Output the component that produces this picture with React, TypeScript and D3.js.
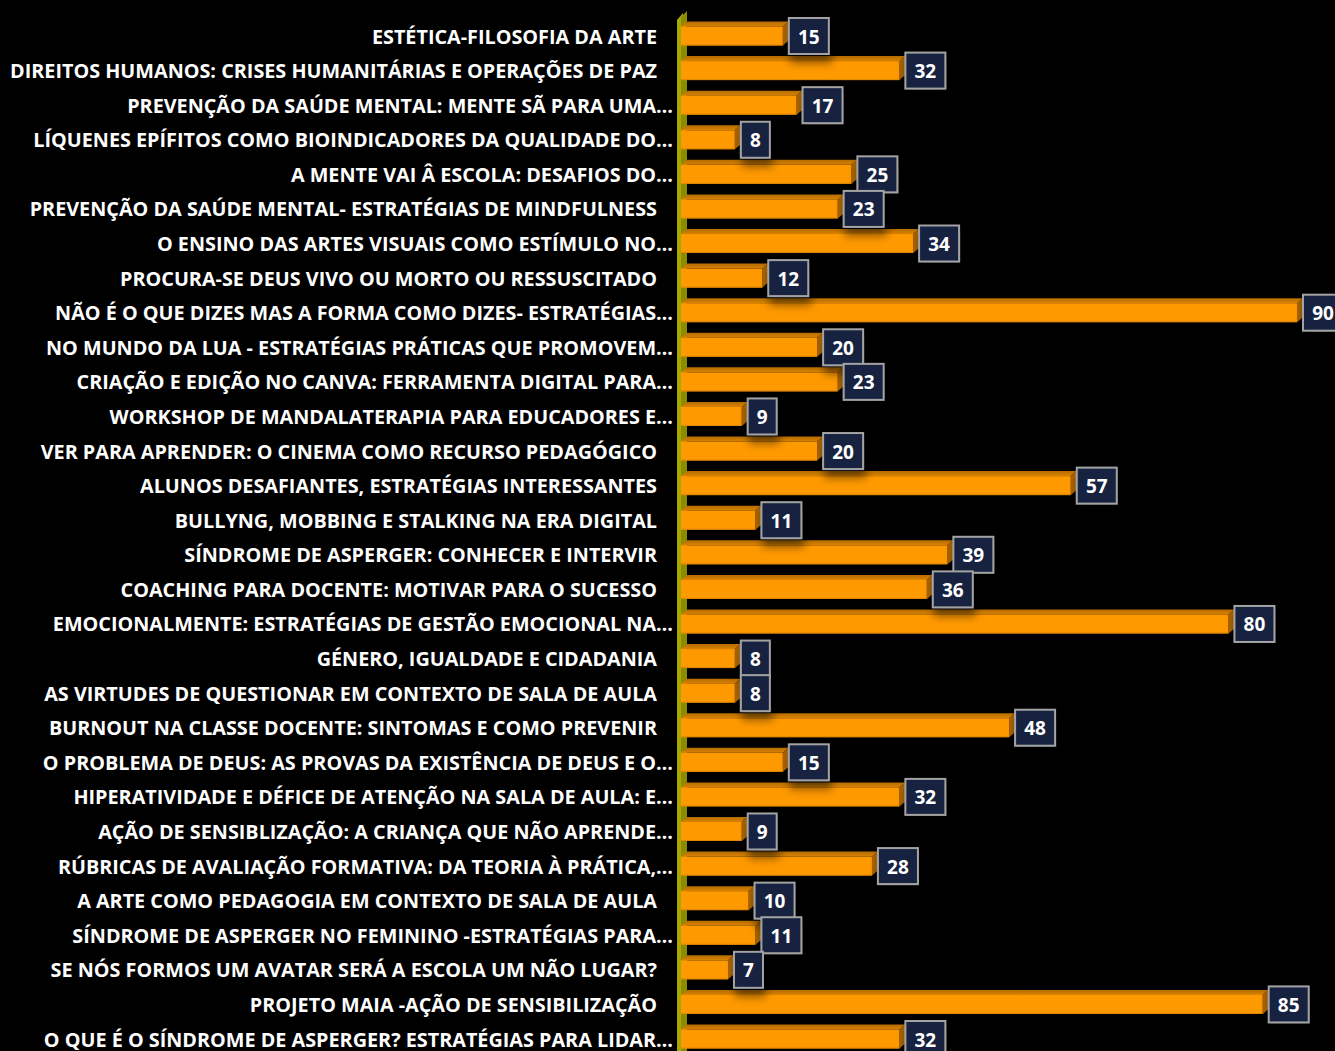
import React from "react";
import * as d3 from "d3";

const categories: string[] = [
  "ESTÉTICA-FILOSOFIA DA ARTE",
  "DIREITOS HUMANOS: CRISES HUMANITÁRIAS E OPERAÇÕES DE PAZ",
  "PREVENÇÃO DA SAÚDE MENTAL: MENTE SÃ PARA UMA…",
  "LÍQUENES EPÍFITOS COMO BIOINDICADORES DA QUALIDADE DO…",
  "A MENTE VAI Â ESCOLA: DESAFIOS DO…",
  "PREVENÇÃO DA SAÚDE MENTAL- ESTRATÉGIAS DE MINDFULNESS",
  "O ENSINO DAS ARTES VISUAIS COMO ESTÍMULO NO…",
  "PROCURA-SE DEUS VIVO OU MORTO OU RESSUSCITADO",
  "NÃO É O QUE DIZES MAS A FORMA COMO DIZES- ESTRATÉGIAS…",
  "NO MUNDO DA LUA - ESTRATÉGIAS PRÁTICAS QUE PROMOVEM…",
  "CRIAÇÃO E EDIÇÃO NO CANVA: FERRAMENTA DIGITAL PARA…",
  "WORKSHOP DE MANDALATERAPIA PARA EDUCADORES E…",
  "VER PARA APRENDER: O CINEMA COMO RECURSO PEDAGÓGICO",
  "ALUNOS DESAFIANTES, ESTRATÉGIAS INTERESSANTES",
  "BULLYNG, MOBBING E STALKING NA ERA DIGITAL",
  "SÍNDROME DE ASPERGER: CONHECER E INTERVIR",
  "COACHING PARA DOCENTE: MOTIVAR PARA O SUCESSO",
  "EMOCIONALMENTE: ESTRATÉGIAS DE GESTÃO EMOCIONAL NA…",
  "GÉNERO, IGUALDADE E CIDADANIA",
  "AS VIRTUDES DE QUESTIONAR EM CONTEXTO DE SALA DE AULA",
  "BURNOUT NA CLASSE DOCENTE: SINTOMAS E COMO PREVENIR",
  "O PROBLEMA DE DEUS: AS PROVAS DA EXISTÊNCIA DE DEUS E O…",
  "HIPERATIVIDADE E DÉFICE DE ATENÇÃO NA SALA DE AULA: E…",
  "AÇÃO DE SENSIBLIZAÇÃO: A CRIANÇA QUE NÃO APRENDE…",
  "RÚBRICAS DE AVALIAÇÃO FORMATIVA: DA TEORIA À PRÁTICA,…",
  "A ARTE COMO PEDAGOGIA EM CONTEXTO DE SALA DE AULA",
  "SÍNDROME DE ASPERGER NO FEMININO -ESTRATÉGIAS PARA…",
  "SE NÓS FORMOS UM AVATAR SERÁ A ESCOLA UM NÃO LUGAR?",
  "PROJETO MAIA -AÇÃO DE SENSIBILIZAÇÃO",
  "O QUE É O SÍNDROME DE ASPERGER? ESTRATÉGIAS PARA LIDAR…",
];

const values: number[] = [
  15, 32, 17, 8, 25, 23, 34, 12, 90, 20, 23, 9, 20, 57, 11, 39, 36, 80, 8, 8,
  48, 15, 32, 9, 28, 10, 11, 7, 85, 32,
];

const W = 1335;
const H = 1051;
const FONT = "'Open Sans', sans-serif";
const SX = 0.99;

export default function App() {
  const x = d3.scaleLinear().domain([0, 90]).range([680, 1297]);
  const y = d3.scalePoint<string>().domain(categories).range([36, 1039]);
  const bh = 19;
  const dx = 6;
  const dy = 5;

  return (
    <svg
      width={W}
      height={H}
      style={{ position: "absolute", left: 0, top: 0, background: "#000" }}
    >
      <defs>
        <filter id="sh" x="-30%" y="-30%" width="180%" height="200%">
          <feDropShadow dx="2" dy="8" stdDeviation="4" floodColor="#000" floodOpacity="0.45" />
        </filter>
        <linearGradient id="topg" x1="0" y1="1" x2="0" y2="0">
          <stop offset="0" stopColor="#d98300" />
          <stop offset="1" stopColor="#b56c00" />
        </linearGradient>
      </defs>
      <rect x={0} y={0} width={W} height={H} fill="#000" />
      <polygon points={`677,20 683,13 683,${H} 677,${H}`} fill="#a8a800" />
      <polygon points={`681,17 687,11 687,${H} 681,${H}`} fill="#8c8c00" />
      {categories.map((c, i) => {
        const cy = y(c)!;
        const x0 = x(0) + 1;
        const x1 = x(values[i]);
        const t = cy - bh / 2;
        const b = cy + bh / 2;
        return (
          <g key={"b" + i}>
            <polygon
              points={`${x0},${t} ${x0 + dx},${t - dy} ${x1 + dx},${t - dy} ${x1},${t}`}
              fill="url(#topg)"
            />
            <polygon
              points={`${x1},${t} ${x1 + dx},${t - dy} ${x1 + dx},${b - dy} ${x1},${b}`}
              fill="#a96400"
            />
            <rect x={x0} y={t} width={x1 - x0} height={bh} fill="#ff9900" />
            <line x1={x0} x2={x1} y1={b - 0.5} y2={b - 0.5} stroke="#e08600" strokeWidth={1} />
          </g>
        );
      })}
      {categories.map((c, i) => {
        const cy = y(c)!;
        const truncated = c.endsWith("…");
        const ax = truncated ? 673 : 657;
        return (
          <g key={"l" + i} transform={`translate(${ax},${cy + 7.5}) scale(${SX},1)`}>
            <text
              x={0}
              y={0}
              textAnchor="end"
              fill="#fff"
              fontFamily={FONT}
              fontWeight={700}
              fontSize={20}
            >
              {c}
            </text>
          </g>
        );
      })}
      {categories.map((c, i) => {
        const cy = y(c)!;
        const v = values[i];
        const s = String(v);
        const bw = s.length === 1 ? 29 : 40;
        const bx = x(v) + dx;
        const bH = 36;
        return (
          <g key={"v" + i}>
            <rect
              x={bx}
              y={cy - bH / 2}
              width={bw}
              height={bH}
              fill="#17233f"
              stroke="#a3a3a3"
              strokeWidth={2}
              filter="url(#sh)"
            />
            <g transform={`translate(${bx + bw / 2},${cy + 7.5}) scale(0.95,1)`}>
              <text
                x={0}
                y={0}
                textAnchor="middle"
                fill="#fff"
                fontFamily={FONT}
                fontWeight={700}
                fontSize={20}
              >
                {s}
              </text>
            </g>
          </g>
        );
      })}
    </svg>
  );
}
